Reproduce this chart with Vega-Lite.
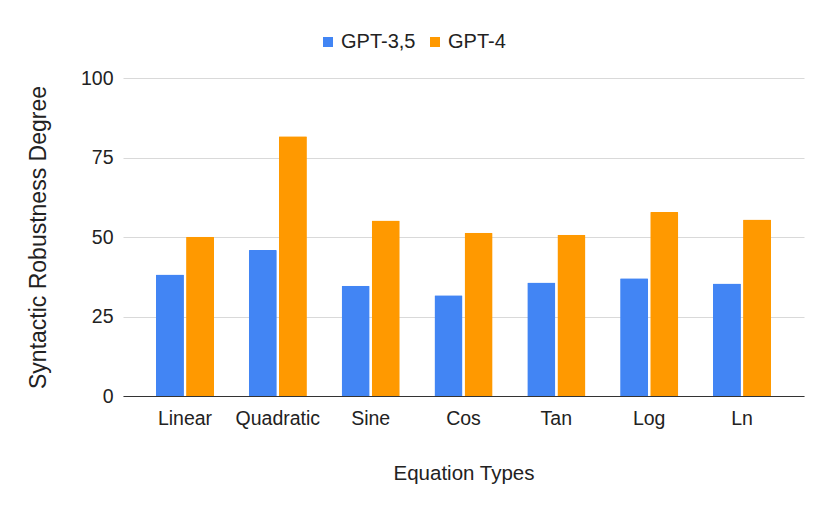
{
  "$schema": "https://vega.github.io/schema/vega-lite/v6.json",
  "autosize": "none",
  "width": 681,
  "height": 318,
  "padding": {"left": 123, "top": 78, "right": 26, "bottom": 115},
  "background": "white",
  "config": {
    "font": "Liberation Sans",
    "view": {"stroke": null},
    "axis": {"labelFont": "Liberation Sans", "titleFont": "Liberation Sans", "labelColor": "#222222", "titleColor": "#222222", "titleFontWeight": "normal"}
  },
  "data": {
    "values": [
      {"type": "Linear", "model": "GPT-3,5", "score": 38.2},
      {"type": "Linear", "model": "GPT-4", "score": 50.1},
      {"type": "Quadratic", "model": "GPT-3,5", "score": 45.9},
      {"type": "Quadratic", "model": "GPT-4", "score": 81.7},
      {"type": "Sine", "model": "GPT-3,5", "score": 34.7},
      {"type": "Sine", "model": "GPT-4", "score": 55.2},
      {"type": "Cos", "model": "GPT-3,5", "score": 31.7},
      {"type": "Cos", "model": "GPT-4", "score": 51.3},
      {"type": "Tan", "model": "GPT-3,5", "score": 35.7},
      {"type": "Tan", "model": "GPT-4", "score": 50.7},
      {"type": "Log", "model": "GPT-3,5", "score": 37.0},
      {"type": "Log", "model": "GPT-4", "score": 57.9},
      {"type": "Ln", "model": "GPT-3,5", "score": 35.4},
      {"type": "Ln", "model": "GPT-4", "score": 55.5}
    ]
  },
  "mark": {"type": "bar", "cornerRadiusTopLeft": 1, "cornerRadiusTopRight": 1},
  "encoding": {
    "x": {
      "field": "type",
      "type": "nominal",
      "sort": ["Linear", "Quadratic", "Sine", "Cos", "Tan", "Log", "Ln"],
      "scale": {"paddingInner": 0.374, "paddingOuter": 0.355},
      "axis": {
        "title": "Equation Types",
        "titleFontSize": 20.5,
        "titlePadding": 36,
        "labelFontSize": 19.5,
        "labelAngle": 0,
        "labelPadding": 13,
        "ticks": false,
        "domainColor": "#333333",
        "domainWidth": 1.2
      }
    },
    "xOffset": {
      "field": "model",
      "type": "nominal",
      "sort": ["GPT-3,5", "GPT-4"],
      "scale": {"paddingInner": 0.07}
    },
    "y": {
      "field": "score",
      "type": "quantitative",
      "scale": {"domain": [0, 100]},
      "axis": {
        "title": "Syntactic Robustness Degree",
        "titleFontSize": 23,
        "titlePadding": 30,
        "labelFontSize": 19.5,
        "labelPadding": 10,
        "values": [0, 25, 50, 75, 100],
        "ticks": false,
        "domain": false,
        "gridColor": "#d9d9d9"
      }
    },
    "color": {
      "field": "model",
      "type": "nominal",
      "scale": {"domain": ["GPT-3,5", "GPT-4"], "range": ["#4285F4", "#FF9900"]},
      "legend": {
        "title": null,
        "orient": "none",
        "direction": "horizontal",
        "legendX": 195,
        "legendY": -46,
        "padding": 0,
        "symbolType": "square",
        "symbolSize": 100,
        "symbolStrokeWidth": 0,
        "labelFontSize": 20,
        "labelFont": "Liberation Sans",
        "labelColor": "#222222",
        "labelOffset": 3,
        "columnPadding": 9
      }
    }
  }
}
